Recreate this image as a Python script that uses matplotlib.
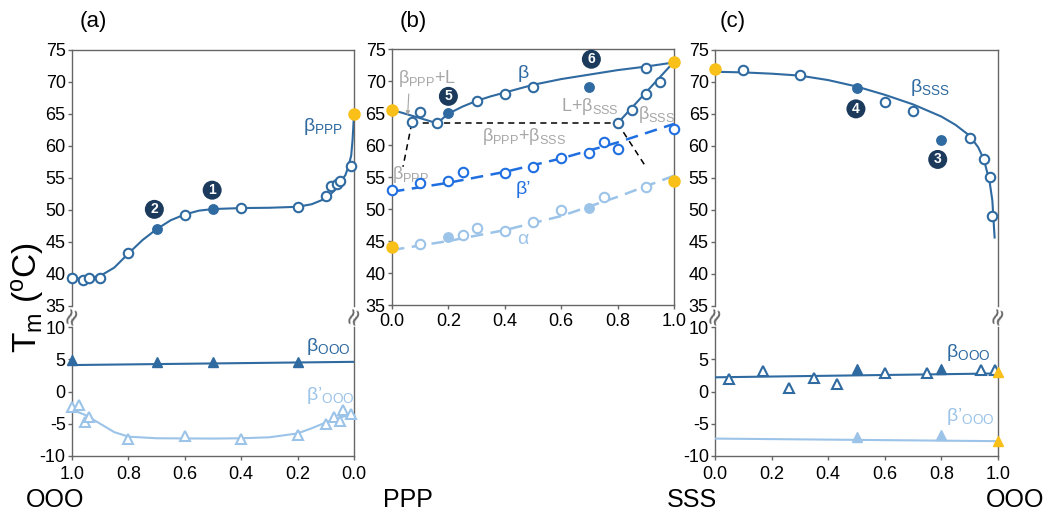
import matplotlib
matplotlib.use("Agg")
from matplotlib import pyplot as plt

plt.rcParams["font.family"] = ["Liberation Sans", "DejaVu Sans"]
plt.rcParams["mathtext.fontset"] = "custom"
plt.rcParams["mathtext.rm"] = "Liberation Sans"
plt.rcParams["mathtext.it"] = "Liberation Sans"
plt.rcParams["mathtext.bf"] = "Liberation Sans:bold"
plt.rcParams["axes.unicode_minus"] = False

# Colours
C_BETA = "#2f6aa0"
C_BPRIME = "#1f6fe0"
C_ALPHA = "#9cc3e8"
C_NAVY = "#1b3a5c"
C_YELLOW = "#f9c01a"
C_GRAY = "#a6a6a6"
C_SPINE = "#666666"

# ---------------- panel (a): OOO / PPP ----------------
a_open_x = [1.0, 0.96, 0.94, 0.9, 0.8, 0.6, 0.4, 0.2, 0.1, 0.08, 0.06, 0.05, 0.01]
a_open_y = [39.3, 39.1, 39.4, 39.4, 43.3, 49.2, 50.3, 50.4, 52.2, 53.7, 54.1, 54.6, 56.9]
a_fill_x = [0.7, 0.5]
a_fill_y = [47.0, 50.1]
a_pure_x = [0.0]
a_pure_y = [65.0]
a_curve_x = [1.0, 0.95, 0.9, 0.85, 0.8, 0.75, 0.7, 0.65, 0.6, 0.55, 0.5, 0.4,
             0.3, 0.2, 0.15, 0.1, 0.07, 0.05, 0.03, 0.02, 0.01, 0.005, 0.0]
a_curve_y = [39.3, 39.3, 39.7, 41.0, 43.2, 45.3, 47.0, 48.4, 49.3, 49.9, 50.15,
             50.3, 50.35, 50.5, 50.9, 51.8, 53.0, 54.2, 55.5, 56.8, 58.5, 61.0, 65.0]

a_booo_x = [1.0, 0.7, 0.5, 0.2]
a_booo_y = [4.9, 4.5, 4.6, 4.5]
a_booo_line_x = [1.0, 0.0]
a_booo_line_y = [4.1, 4.6]
a_bpooo_x = [1.0, 0.975, 0.955, 0.94, 0.8, 0.6, 0.4, 0.2, 0.1, 0.07, 0.05, 0.04, 0.01]
a_bpooo_y = [-2.4, -2.1, -4.7, -3.9, -7.3, -6.95, -7.3, -6.8, -5.1, -3.9, -4.6, -2.9, -3.5]
a_bpooo_curve_x = [1.0, 0.95, 0.9, 0.85, 0.8, 0.7, 0.5, 0.4, 0.3, 0.2, 0.15, 0.1, 0.05, 0.0]
a_bpooo_curve_y = [-2.8, -3.7, -5.0, -6.3, -7.0, -7.25, -7.3, -7.25, -7.1, -6.5, -5.7,
                   -4.8, -4.0, -3.6]

# ---------------- panel (b): PPP / SSS ----------------
b_beta_open_x = [0.07, 0.1, 0.16, 0.3, 0.4, 0.5, 0.9]
b_beta_open_y = [63.6, 65.1, 63.4, 66.9, 67.9, 69.1, 72.1]
b_beta_fill_x = [0.2, 0.7]
b_beta_fill_y = [65.0, 69.0]
b_beta_curve_x = [0.0, 0.16, 0.2, 0.25, 0.3, 0.35, 0.4, 0.5, 0.6, 0.7, 0.8, 0.9, 1.0]
b_beta_curve_y = [65.5, 63.4, 64.9, 66.0, 66.9, 67.6, 68.2, 69.4, 70.3, 71.0, 71.7,
                  72.25, 72.9]
b_bsss_x = [0.8, 0.85, 0.9, 0.95]
b_bsss_y = [63.5, 65.5, 67.9, 69.9]
b_bsss_line_x = [0.8, 1.0]
b_bsss_line_y = [63.4, 73.0]
b_pure_x = [0.0, 1.0, 0.0, 1.0]
b_pure_y = [65.5, 73.0, 44.0, 54.4]

b_bp_x = [0.0, 0.1, 0.2, 0.25, 0.4, 0.5, 0.6, 0.7, 0.75, 0.8, 1.0]
b_bp_y = [53.0, 54.0, 54.3, 55.8, 55.7, 56.5, 58.0, 58.8, 60.4, 59.4, 62.5]
b_bp_curve_x = [0.0, 0.2, 0.4, 0.6, 0.8, 1.0]
b_bp_curve_y = [52.7, 54.1, 55.8, 57.9, 60.4, 63.3]

b_alpha_open_x = [0.1, 0.25, 0.3, 0.4, 0.5, 0.6, 0.75, 0.9]
b_alpha_open_y = [44.5, 46.0, 47.0, 46.6, 47.9, 49.8, 51.9, 53.5]
b_alpha_fill_x = [0.2, 0.7]
b_alpha_fill_y = [45.7, 50.1]
b_alpha_curve_x = [0.0, 0.2, 0.4, 0.6, 0.8, 1.0]
b_alpha_curve_y = [43.6, 45.0, 46.7, 48.9, 51.9, 55.2]

b_eut_x = [0.07, 0.8]
b_eut_y = [63.4, 63.4]
b_sol_left_x = [0.07, 0.039]
b_sol_left_y = [63.4, 56.6]
b_sol_right_x = [0.8, 0.903]
b_sol_right_y = [63.4, 56.4]

# ---------------- panel (c): SSS / OOO ----------------
c_open_x = [0.1, 0.3, 0.6, 0.7, 0.9, 0.95, 0.97, 0.98]
c_open_y = [71.8, 71.1, 66.9, 65.4, 61.3, 57.9, 55.2, 49.0]
c_fill_x = [0.5, 0.8]
c_fill_y = [69.1, 60.9]
c_pure_x = [0.0]
c_pure_y = [72.0]
c_curve_x = [0.0, 0.1, 0.2, 0.3, 0.4, 0.5, 0.6, 0.7, 0.8, 0.85, 0.9, 0.93, 0.95,
             0.97, 0.98, 0.988]
c_curve_y = [71.6, 71.5, 71.3, 71.0, 70.3, 69.3, 68.0, 66.5, 64.6, 63.3, 61.6, 59.8,
             57.9, 54.5, 51.5, 45.7]

c_booo_open_x = [0.05, 0.17, 0.26, 0.35, 0.43, 0.6, 0.75, 0.94, 0.99]
c_booo_open_y = [1.9, 3.2, 0.6, 2.1, 1.2, 2.8, 2.8, 3.3, 3.3]
c_booo_fill_x = [0.5, 0.8]
c_booo_fill_y = [3.5, 3.5]
c_booo_line_x = [0.0, 1.0]
c_booo_line_y = [2.2, 2.8]
c_bpooo_fill_x = [0.5, 0.8]
c_bpooo_fill_y = [-7.0, -6.8]
c_bpooo_line_x = [0.0, 1.0]
c_bpooo_line_y = [-7.3, -7.7]
c_pure_low_x = [1.0, 1.0]
c_pure_low_y = [3.0, -7.7]

W, H = 1044, 512
fig = plt.figure(figsize=(W / 100, H / 100), dpi=100)


def box(left, top, right, bottom):
    return (left / W, 1 - bottom / H, (right - left) / W, (bottom - top) / H)


def style(ax, spines):
    for name, sp in ax.spines.items():
        sp.set_visible(name in spines)
        sp.set_color(C_SPINE)
        sp.set_linewidth(1.0)
    ax.tick_params(axis="both", labelsize=13, color=C_SPINE, length=3, width=1,
                   direction="out", pad=1.5)


def open_pts(ax, x, y, color, marker="o", ms=6.8):
    ax.plot(x, y, linestyle="none", marker=marker, ms=ms, mfc="white", mec=color,
            mew=1.5, zorder=4, clip_on=False)


def fill_pts(ax, x, y, color, marker="o", ms=6.8):
    ax.plot(x, y, linestyle="none", marker=marker, ms=ms, mfc=color, mec=color,
            mew=1.0, zorder=5, clip_on=False)


def badge(ax, x, y, num):
    ax.text(x, y, num, color="white", fontsize=10, fontweight="bold",
            ha="center", va="center", zorder=6,
            bbox=dict(boxstyle="circle,pad=0.18", fc=C_NAVY, ec="none"))


def breaks(ax, xs):
    for x in xs:
        ax.text(x, -0.035, "≈", transform=ax.transAxes, rotation=70, fontsize=17,
                ha="center", va="center", color=C_SPINE, family="DejaVu Sans")


def top_axes(ax, xlim):
    ax.set_xlim(*xlim)
    ax.set_ylim(35, 75)
    ax.set_yticks(range(35, 76, 5))
    ax.set_xticks([])
    style(ax, ["left", "right", "top"])


def bottom_axes(ax, xlim):
    ax.set_xlim(*xlim)
    ax.set_ylim(-10, 10)
    ax.set_yticks([-10, -5, 0, 5, 10])
    ax.set_xticks([0.0, 0.2, 0.4, 0.6, 0.8, 1.0])
    ax.set_xticklabels(["0.0", "0.2", "0.4", "0.6", "0.8", "1.0"])
    style(ax, ["left", "right", "bottom"])
    ax.tick_params(axis="x", length=3, pad=4)


def lab(ax, x, y, s, color, size=14, **kw):
    ax.text(x, y, s, color=color, fontsize=size, **kw)


# ---- (a) ----
ax_a = fig.add_axes(box(72, 50, 354, 306))
top_axes(ax_a, (1.0, 0.0))
ax_a.plot(a_curve_x, a_curve_y, color=C_BETA, lw=1.5, zorder=3)
open_pts(ax_a, a_open_x, a_open_y, C_BETA)
fill_pts(ax_a, a_fill_x, a_fill_y, C_BETA)
fill_pts(ax_a, a_pure_x, a_pure_y, C_YELLOW, ms=8)
badge(ax_a, 0.708, 50.1, "2")
badge(ax_a, 0.503, 53.1, "1")
lab(ax_a, 0.18, 63.0, r"β$_{\mathrm{PPP}}$", C_BETA, va="center")
breaks(ax_a, [0.0, 1.0])

ax_a2 = fig.add_axes(box(72, 327, 354, 456))
bottom_axes(ax_a2, (1.0, 0.0))
ax_a2.plot(a_booo_line_x, a_booo_line_y, color=C_BETA, lw=1.5, zorder=3)
fill_pts(ax_a2, a_booo_x, a_booo_y, C_BETA, marker="^", ms=7.5)
ax_a2.plot(a_bpooo_curve_x, a_bpooo_curve_y, color=C_ALPHA, lw=1.5, zorder=3)
open_pts(ax_a2, a_bpooo_x, a_bpooo_y, C_ALPHA, marker="^", ms=7.5)
lab(ax_a2, 0.17, 6.9, r"β$_{\mathrm{OOO}}$", C_BETA, va="center")
lab(ax_a2, 0.17, -0.6, r"β’$_{\mathrm{OOO}}$", C_ALPHA, va="center")

# ---- (b) ----
ax_b = fig.add_axes(box(392, 49, 674, 305))
ax_b.set_xlim(0.0, 1.0)
ax_b.set_ylim(35, 75)
ax_b.set_yticks(range(35, 76, 5))
ax_b.set_xticks([0.0, 0.2, 0.4, 0.6, 0.8, 1.0])
ax_b.set_xticklabels(["0.0", "0.2", "0.4", "0.6", "0.8", "1.0"])
style(ax_b, ["left", "right", "top", "bottom"])
ax_b.tick_params(axis="x", length=3, pad=3)

ax_b.plot(b_eut_x, b_eut_y, color="black", lw=1.1, ls=(0, (4, 3)), zorder=2)
ax_b.plot(b_sol_left_x, b_sol_left_y, color="black", lw=1.1, ls=(0, (4, 3)), zorder=2)
ax_b.plot(b_sol_right_x, b_sol_right_y, color="black", lw=1.1, ls=(0, (4, 3)), zorder=2)
ax_b.plot(b_beta_curve_x, b_beta_curve_y, color=C_BETA, lw=1.5, zorder=3)
ax_b.plot(b_bsss_line_x, b_bsss_line_y, color=C_BETA, lw=1.5, zorder=3)
ax_b.plot(b_bp_curve_x, b_bp_curve_y, color=C_BPRIME, lw=1.8, ls=(0, (5, 3)), zorder=3)
ax_b.plot(b_alpha_curve_x, b_alpha_curve_y, color=C_ALPHA, lw=1.8, ls=(0, (5, 3)),
          zorder=3)
open_pts(ax_b, b_beta_open_x, b_beta_open_y, C_BETA)
open_pts(ax_b, b_bsss_x, b_bsss_y, C_BETA)
fill_pts(ax_b, b_beta_fill_x, b_beta_fill_y, C_BETA)
open_pts(ax_b, b_bp_x, b_bp_y, C_BPRIME)
open_pts(ax_b, b_alpha_open_x, b_alpha_open_y, C_ALPHA)
fill_pts(ax_b, b_alpha_fill_x, b_alpha_fill_y, C_ALPHA)
fill_pts(ax_b, b_pure_x, b_pure_y, C_YELLOW, ms=8)
badge(ax_b, 0.2, 67.6, "5")
badge(ax_b, 0.707, 73.4, "6")
lab(ax_b, 0.02, 70.4, r"β$_{\mathrm{PPP}}$+L", C_GRAY, size=13, va="center")
ax_b.annotate("", xy=(0.055, 64.2), xytext=(0.06, 68.4),
              arrowprops=dict(arrowstyle="-|>", color=C_GRAY, lw=0.8,
                              mutation_scale=6))
lab(ax_b, 0.445, 71.2, "β", C_BETA, va="center")
lab(ax_b, 0.6, 66.0, r"L+β$_{\mathrm{SSS}}$", C_GRAY, size=13, va="center")
lab(ax_b, 0.872, 64.7, r"β$_{\mathrm{SSS}}$", C_GRAY, size=13, va="center")
lab(ax_b, 0.32, 61.4, r"β$_{\mathrm{PPP}}$+β$_{\mathrm{SSS}}$", C_GRAY, size=13,
    va="center")
lab(ax_b, 0.0, 55.4, r"β$_{\mathrm{PPP}}$", C_GRAY, size=13, va="center")
lab(ax_b, 0.44, 53.1, "β’", C_BPRIME, va="center")
lab(ax_b, 0.445, 45.2, "α", C_ALPHA, va="center")

# ---- (c) ----
ax_c = fig.add_axes(box(715, 50, 998, 306))
top_axes(ax_c, (0.0, 1.0))
ax_c.plot(c_curve_x, c_curve_y, color=C_BETA, lw=1.5, zorder=3)
open_pts(ax_c, c_open_x, c_open_y, C_BETA)
fill_pts(ax_c, c_fill_x, c_fill_y, C_BETA)
fill_pts(ax_c, c_pure_x, c_pure_y, C_YELLOW, ms=8)
badge(ax_c, 0.498, 65.8, "4")
badge(ax_c, 0.787, 57.9, "3")
lab(ax_c, 0.69, 69.2, r"β$_{\mathrm{SSS}}$", C_BETA, va="center")
breaks(ax_c, [0.0, 1.0])

ax_c2 = fig.add_axes(box(715, 327, 998, 456))
bottom_axes(ax_c2, (0.0, 1.0))
ax_c2.plot(c_booo_line_x, c_booo_line_y, color=C_BETA, lw=1.5, zorder=3)
open_pts(ax_c2, c_booo_open_x, c_booo_open_y, C_BETA, marker="^", ms=7.5)
fill_pts(ax_c2, c_booo_fill_x, c_booo_fill_y, C_BETA, marker="^", ms=7.5)
ax_c2.plot(c_bpooo_line_x, c_bpooo_line_y, color=C_ALPHA, lw=1.5, zorder=3)
fill_pts(ax_c2, c_bpooo_fill_x, c_bpooo_fill_y, C_ALPHA, marker="^", ms=7.5)
fill_pts(ax_c2, c_pure_low_x, c_pure_low_y, C_YELLOW, marker="^", ms=7.5)
lab(ax_c2, 0.815, 6.1, r"β$_{\mathrm{OOO}}$", C_BETA, va="center")
lab(ax_c2, 0.815, -3.8, r"β’$_{\mathrm{OOO}}$", C_ALPHA, va="center")

# ---- figure texts ----
fig.text(93 / W, 1 - 22 / H, "(a)", fontsize=16, ha="center", va="center")
fig.text(413 / W, 1 - 22 / H, "(b)", fontsize=16, ha="center", va="center")
fig.text(733 / W, 1 - 22 / H, "(c)", fontsize=16, ha="center", va="center")
fig.text(28 / W, 1 - 298 / H, r"T$_{\mathrm{m}}$ ($^{\mathrm{o}}$C)", fontsize=24,
         rotation=90, ha="center", va="center")
fig.text(55 / W, 1 - 500 / H, "OOO", fontsize=18, ha="center", va="center")
fig.text(408 / W, 1 - 500 / H, "PPP", fontsize=18, ha="center", va="center")
fig.text(692 / W, 1 - 500 / H, "SSS", fontsize=18, ha="center", va="center")
fig.text(1015 / W, 1 - 500 / H, "OOO", fontsize=18, ha="center", va="center")

fig.savefig("out.png", dpi=100)
